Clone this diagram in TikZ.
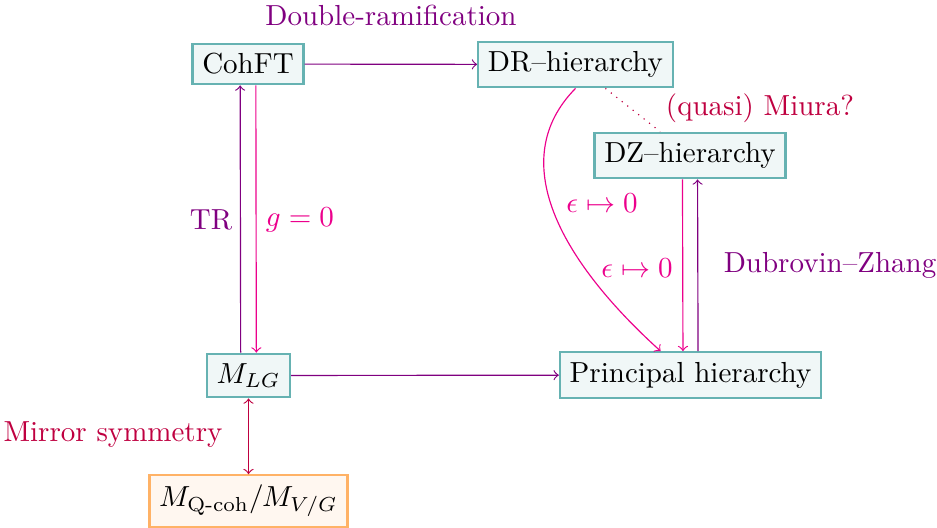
\documentclass[tikz,border=0pt]{standalone}
\usepackage{amsmath}
\definecolor{vio}{rgb}{0.5,0,0.5}
\definecolor{mag}{RGB}{236,0,140}
\definecolor{pur}{rgb}{0.75,0,0.25}
\begin{document}
\begin{tikzpicture}[x=0.3447pt,y=-0.3447pt,
  box/.style={draw=teal!60, fill=teal!6, thick},
  obox/.style={draw=orange!60, fill=orange!6, thick},
  va/.style={vio,->},
  ma/.style={mag,->}]
\useasboundingbox (0,0) rectangle (937,527);
\node[box] (coh) at (248,64) {CohFT};
\node[box] (dr) at (575.5,64.5) {DR--hierarchy};
\node[box] (dz) at (690,155.5) {DZ--hierarchy};
\node[box] (mlg) at (248.5,375.5) {$M_{LG}$};
\node[box] (ph) at (690.5,375) {Principal hierarchy};
\node[obox] (mq) at (248.5,501) {$M_{\text{Q-coh}}/M_{V/G}$};

\draw[va] (coh) -- (dr);
\draw[va] (mlg) -- (ph);
\draw[va] ([xshift=-2.7pt]mlg.north) -- ([xshift=-2.7pt]coh.south);
\draw[ma] ([xshift=2.7pt]coh.south) -- ([xshift=2.7pt]mlg.north);
\draw[pur,<->] (mlg) -- (mq);
\draw[ma] ([xshift=-2.6pt]dz.south) -- ([xshift=-2.6pt]ph.north);
\draw[va] ([xshift=2.6pt]ph.north) -- ([xshift=2.6pt]dz.south);
\draw[ma] (dr.south) .. controls (505,160) and (560,260) .. ([xshift=-10.3pt]ph.north);
\draw[pur,dotted] ([xshift=10.3pt]dr.south) -- ([xshift=-10.3pt]dz.north);

\node[vio] (ldr) at (391,15) {Double-ramification};
\node[vio] (ltr) at (211,220) {TR};
\node[mag] (lg) at (300,220) {$g=0$};
\node[mag] (le1) at (602,203) {$\epsilon\mapsto0$};
\node[mag] (le2) at (637,268) {$\epsilon\mapsto0$};
\node[vio] (ldz) at (830,265) {Dubrovin--Zhang};
\node[pur] (lmi) at (760,108) {(quasi) Miura?};
\node[pur] (lms) at (113,435) {Mirror symmetry};
\end{tikzpicture}
\end{document}
